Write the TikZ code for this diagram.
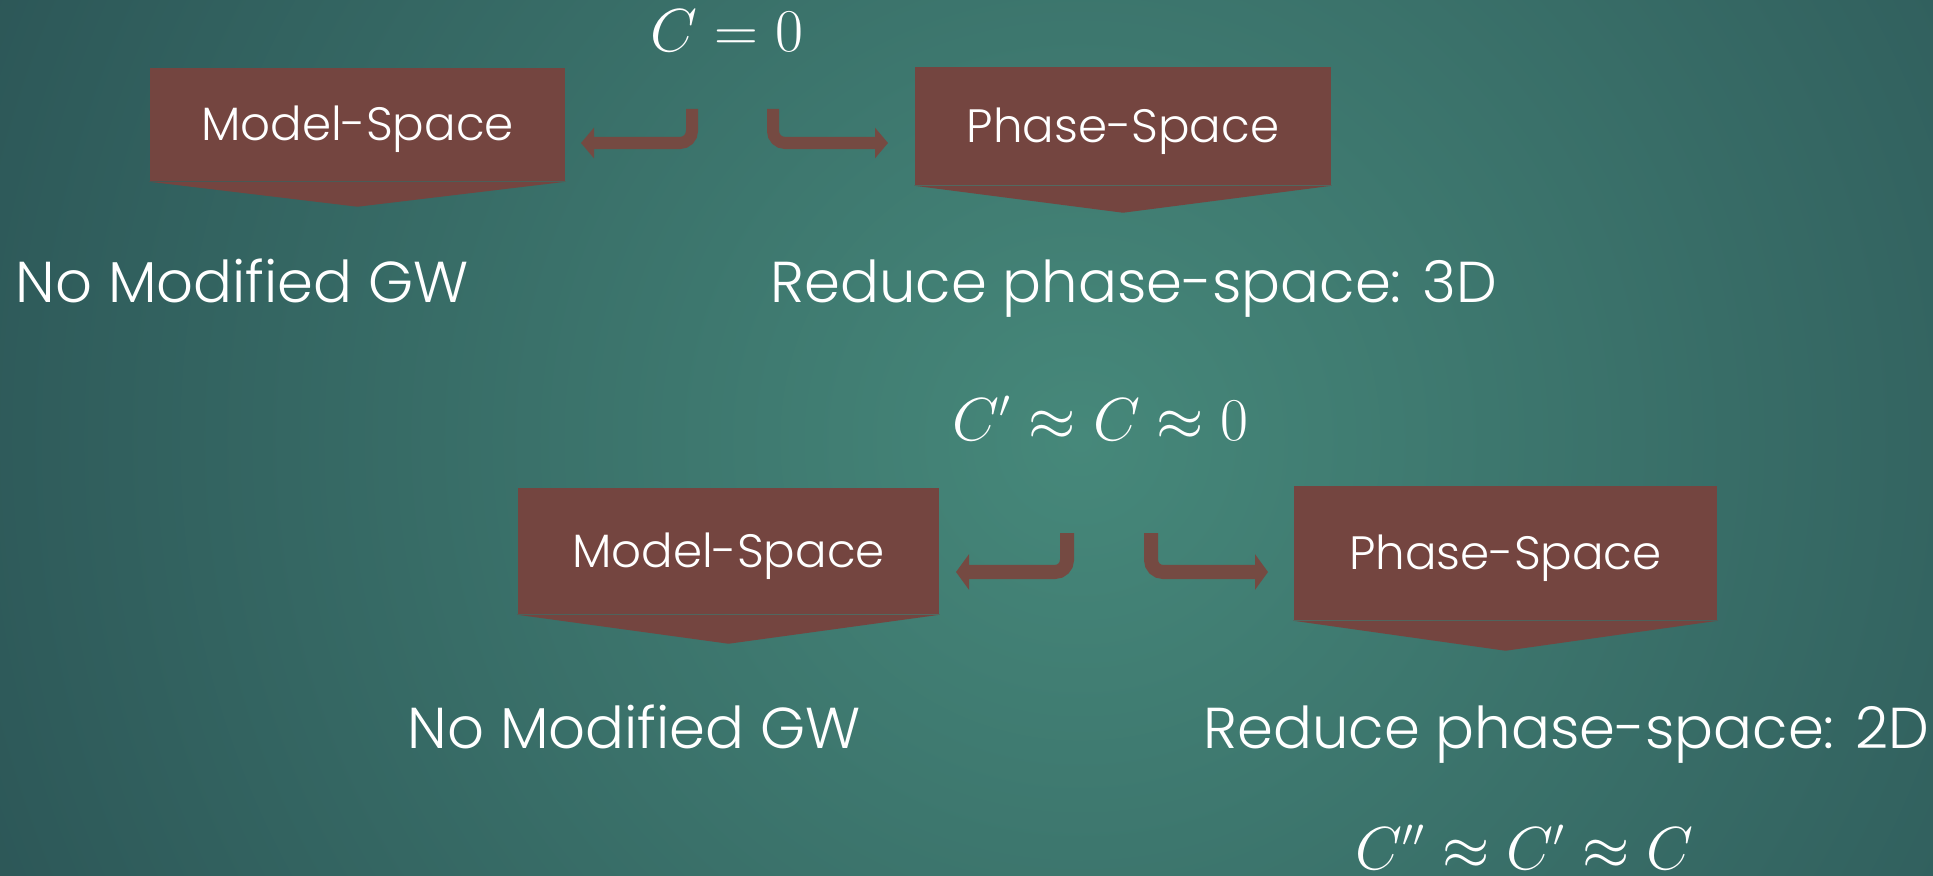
\documentclass[tikz,border=0pt]{standalone}
\usepackage[no-math]{fontspec}
\setmainfont{Poppins}[UprightFont=* Light]
\usetikzlibrary{arrows.meta,calc}
\definecolor{slideDark}{HTML}{2C5657}
\definecolor{slideLight}{HTML}{46887A}
\definecolor{boxRed}{HTML}{744540}
\definecolor{arrowRed}{HTML}{754A42}
\begin{document}
\begin{tikzpicture}[x=0.01cm, y=-0.01cm]
% slide laid out in pixel units, y pointing down
\tikzset{
  spacebox/.style={fill=boxRed, inner sep=0pt, text=white, text height=9.3pt, text depth=0pt,
    font=\fontsize{13.3}{16}\selectfont},
  bodytext/.style={inner sep=0pt, anchor=base west, text=white, font=\fontsize{16.4}{20}\selectfont},
  mathtext/.style={inner sep=0pt, anchor=base west, text=white, font=\fontsize{16}{19}\selectfont},
  bentarrow/.style={draw=arrowRed, line width=#1, rounded corners=0.12cm,
    -{Triangle[length=0.13cm, width=0pt 2.5]}}
}
% Background
\begin{scope}
  \clip (0,0) rectangle (1933,876);
  \shade[inner color=slideLight, outer color=slideDark] (1080,440) circle (1200);
\end{scope}
\useasboundingbox (0,0) rectangle (1933,876);
% First row
\node[mathtext] (eq0) at (650,52) {$C = 0$};
\node[spacebox, minimum width=4.15cm, minimum height=1.13cm] (ms1) at (357.5,124.5) {Model-Space};
\node[spacebox, minimum width=4.16cm, minimum height=1.18cm] (ps1) at (1123,126) {Phase-Space};
\fill[boxRed] (ms1.south west) -- (ms1.south east) -- ($(ms1.south)+(0,25)$) -- cycle;
\fill[boxRed] (ps1.south west) -- (ps1.south east) -- ($(ps1.south)+(0,27)$) -- cycle;
\coordinate (a1top) at (692,109);
\coordinate (a1tip) at (581,143);
\coordinate (b1top) at (773,109);
\coordinate (b1tip) at (888,143);
\draw[bentarrow=0.12cm] (a1top) |- (a1tip);
\draw[bentarrow=0.12cm] (b1top) |- (b1tip);
\node[bodytext] (nomod1) at (15,302) {No Modified GW};
\node[bodytext] (reduce1) at (770,302) {Reduce phase-space: 3D};
% Second row
\node[mathtext] (eq1) at (952,440) {$C' \approx C \approx 0$};
\node[spacebox, minimum width=4.21cm, minimum height=1.26cm] (ms2) at (728.5,551) {Model-Space};
\node[spacebox, minimum width=4.23cm, minimum height=1.34cm] (ps2) at (1505.5,553) {Phase-Space};
\fill[boxRed] (ms2.south west) -- (ms2.south east) -- ($(ms2.south)+(0,29)$) -- cycle;
\fill[boxRed] (ps2.south west) -- (ps2.south east) -- ($(ps2.south)+(0,30)$) -- cycle;
\coordinate (a2top) at (1067,533);
\coordinate (a2tip) at (956,572);
\coordinate (b2top) at (1151,533);
\coordinate (b2tip) at (1268,572);
\draw[bentarrow=0.14cm] (a2top) |- (a2tip);
\draw[bentarrow=0.14cm] (b2top) |- (b2tip);
\node[bodytext] (nomod2) at (407,748) {No Modified GW};
\node[bodytext] (reduce2) at (1203,748) {Reduce phase-space: 2D};
\node[mathtext] (eq2) at (1355,869) {$C'' \approx C' \approx C$};
\end{tikzpicture}
\end{document}
